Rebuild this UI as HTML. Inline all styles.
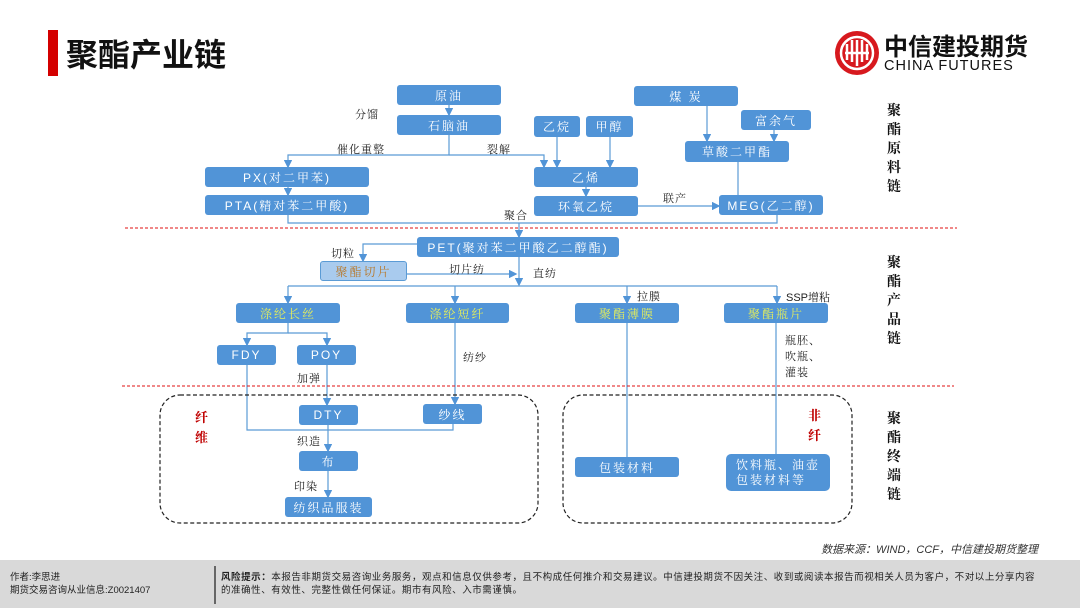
<!DOCTYPE html>
<html><head><meta charset="utf-8"><style>
*{margin:0;padding:0;box-sizing:border-box}
body{width:1080px;height:608px;position:relative;background:#fff;font-family:"Liberation Sans","Noto Sans CJK SC",sans-serif;overflow:hidden}
.b{position:absolute;background:#5194d7;color:#fff;font-size:12px;border-radius:3px;display:flex;align-items:center;justify-content:center;letter-spacing:2px;font-family:"Liberation Sans","Noto Serif CJK SC",serif}
.y{color:#e6ef5a}
.t{position:absolute;font-size:11px;color:#222;letter-spacing:1px;font-family:"Liberation Sans","Noto Serif CJK SC",serif;white-space:nowrap}
.v{position:absolute;font-size:14px;font-weight:bold;color:#111;width:16px;line-height:19px;text-align:center;font-family:"Noto Serif CJK SC",serif}
.r{position:absolute;font-size:13px;font-weight:bold;color:#c00000;width:16px;line-height:20px;font-family:"Noto Serif CJK SC",serif}
</style></head><body>
<div style="position:absolute;left:48px;top:30px;width:10px;height:46px;background:#d40000"></div>
<div style="position:absolute;left:66px;top:30px;font-size:32px;font-weight:bold;color:#111;font-family:'Noto Sans CJK SC',sans-serif;line-height:46px">聚酯产业链</div>
<svg style="position:absolute;left:834px;top:30px" width="46" height="46" viewBox="0 0 46 46"><circle cx="23" cy="23" r="22" fill="#d7191e"/><circle cx="23" cy="23" r="16" fill="none" stroke="#fff" stroke-width="2.5"/><path d="M13 30V14M18 32V10M23 10V36M28 32V10M33 30V14M11 23h24" stroke="#fff" stroke-width="2.5" fill="none"/></svg>
<div style="position:absolute;left:884px;top:30px;font-size:24px;font-weight:bold;color:#111;font-family:'Noto Sans CJK SC',sans-serif;line-height:30px;letter-spacing:0px">中信建投期货</div>
<div style="position:absolute;left:884px;top:58px;font-size:14.5px;color:#111;line-height:16px;letter-spacing:1px">CHINA FUTURES</div>

<svg style="position:absolute;left:0;top:0" width="1080" height="608">
<defs>
<marker id="d" viewBox="0 0 6 6" markerWidth="7" markerHeight="7" refX="5" refY="3" orient="auto"><path d="M0,0L6,3L0,6z" fill="#5194d7"/></marker></defs>
<g stroke="#5b9bd5" stroke-width="1.2" fill="none" marker-end="url(#d)">
<path d="M449 105V115"/>
<path d="M449 135V155H288V167"/>
<path d="M449 155H544V167"/>
<path d="M557 137V167"/><path d="M610 137V167"/>
<path d="M707 106V141"/><path d="M774 130V141"/>
<path d="M288 187V195"/><path d="M586 187V196"/>
<path d="M638 206H719"/>
<path d="M519 223V237"/>
<path d="M417 244H363V261"/>
<path d="M407 274H516"/>
<path d="M519 257V285"/>
<path d="M288 286V303"/><path d="M455 286V303"/><path d="M627 286V303"/><path d="M777 286V303"/>
<path d="M288 323V333H247V345"/><path d="M288 333H327V345"/>
<path d="M327 365V405"/><path d="M455 323V404"/>
<path d="M328 425V451"/><path d="M328 471V497"/>
</g>
<g stroke="#5b9bd5" stroke-width="1.2" fill="none">
<path d="M288 215V223H777V215"/><path d="M738 162V195"/>
<path d="M288 286H777"/>
<path d="M247 365V430H453V424"/>
<path d="M627 323V457"/><path d="M776 323V454"/>
</g>
<g stroke="#e01010" stroke-width="1" stroke-dasharray="3,2"><path d="M125 228H957"/><path d="M122 386H954"/></g>
<g stroke="#222" stroke-width="1.2" stroke-dasharray="4,2.5" fill="none"><rect x="160" y="395" width="378" height="128" rx="20"/><rect x="563" y="395" width="289" height="128" rx="20"/></g>
</svg>

<div class="b" style="left:397px;top:85px;width:104px;height:20px">原油</div>
<div class="b" style="left:397px;top:115px;width:104px;height:20px">石脑油</div>
<div class="b" style="left:534px;top:116px;width:46px;height:21px">乙烷</div>
<div class="b" style="left:586px;top:116px;width:47px;height:21px">甲醇</div>
<div class="b" style="left:634px;top:86px;width:104px;height:20px">煤 炭</div>
<div class="b" style="left:741px;top:110px;width:70px;height:20px">富余气</div>
<div class="b" style="left:685px;top:141px;width:104px;height:21px">草酸二甲酯</div>
<div class="b" style="left:205px;top:167px;width:164px;height:20px">PX(对二甲苯)</div>
<div class="b" style="left:205px;top:195px;width:164px;height:20px">PTA(精对苯二甲酸)</div>
<div class="b" style="left:534px;top:167px;width:104px;height:20px">乙烯</div>
<div class="b" style="left:534px;top:196px;width:104px;height:20px">环氧乙烷</div>
<div class="b" style="left:719px;top:195px;width:104px;height:20px">MEG(乙二醇)</div>
<div class="b" style="left:417px;top:237px;width:202px;height:20px">PET(聚对苯二甲酸乙二醇酯)</div>
<div class="b" style="left:320px;top:261px;width:87px;height:20px;background:#a9cbee;border:1px solid #5b9bd5;color:#b8782a">聚酯切片</div>
<div class="b y" style="left:236px;top:303px;width:104px;height:20px">涤纶长丝</div>
<div class="b y" style="left:406px;top:303px;width:103px;height:20px">涤纶短纤</div>
<div class="b y" style="left:575px;top:303px;width:104px;height:20px">聚酯薄膜</div>
<div class="b y" style="left:724px;top:303px;width:104px;height:20px">聚酯瓶片</div>
<div class="b" style="left:217px;top:345px;width:59px;height:20px">FDY</div>
<div class="b" style="left:297px;top:345px;width:59px;height:20px">POY</div>
<div class="b" style="left:299px;top:405px;width:59px;height:20px">DTY</div>
<div class="b" style="left:423px;top:404px;width:59px;height:20px">纱线</div>
<div class="b" style="left:299px;top:451px;width:59px;height:20px">布</div>
<div class="b" style="left:285px;top:497px;width:87px;height:20px">纺织品服装</div>
<div class="b" style="left:575px;top:457px;width:104px;height:20px">包装材料</div>
<div class="b" style="left:726px;top:454px;width:104px;height:37px;flex-direction:column;line-height:15px;border-radius:5px">饮料瓶、油壶<br>包装材料等</div>

<div class="t" style="left:355px;top:106px">分馏</div>
<div class="t" style="left:337px;top:141px">催化重整</div>
<div class="t" style="left:487px;top:141px">裂解</div>
<div class="t" style="left:504px;top:207px">聚合</div>
<div class="t" style="left:663px;top:190px">联产</div>
<div class="t" style="left:331px;top:245px">切粒</div>
<div class="t" style="left:449px;top:261px">切片纺</div>
<div class="t" style="left:533px;top:265px">直纺</div>
<div class="t" style="left:637px;top:288px">拉膜</div>
<div class="t" style="left:786px;top:289px;letter-spacing:0">SSP增粘</div>
<div class="t" style="left:463px;top:349px">纺纱</div>
<div class="t" style="left:297px;top:370px">加弹</div>
<div class="t" style="left:785px;top:333px;line-height:16px">瓶胚、<br>吹瓶、<br>灌装</div>
<div class="t" style="left:297px;top:433px">织造</div>
<div class="t" style="left:294px;top:478px">印染</div>
<div class="r" style="left:195px;top:407px">纤<br>维</div>
<div class="r" style="left:808px;top:405px">非<br>纤</div>
<div class="v" style="left:886px;top:101px">聚<br>酯<br>原<br>料<br>链</div>
<div class="v" style="left:886px;top:253px">聚<br>酯<br>产<br>品<br>链</div>
<div class="v" style="left:886px;top:409px">聚<br>酯<br>终<br>端<br>链</div>
<div style="position:absolute;right:42px;top:541px;font-size:11px;font-style:italic;color:#333">数据来源：WIND，CCF，中信建投期货整理</div>
<div style="position:absolute;left:0;top:560px;width:1080px;height:48px;background:#d9d9d9"></div>
<div style="position:absolute;left:10px;top:571px;font-size:9.5px;color:#222;line-height:13px">作者:李思进<br>期货交易咨询从业信息:Z0021407</div>
<div style="position:absolute;left:214px;top:566px;width:1.5px;height:38px;background:#666"></div>
<div style="position:absolute;left:221px;top:571px;font-size:9.5px;color:#222;line-height:13px;white-space:nowrap;letter-spacing:0.55px"><b>风险提示：</b>本报告非期货交易咨询业务服务，观点和信息仅供参考，且不构成任何推介和交易建议。中信建投期货不因关注、收到或阅读本报告而视相关人员为客户，不对以上分享内容<br>的准确性、有效性、完整性做任何保证。期市有风险、入市需谨慎。</div>
</body></html>
